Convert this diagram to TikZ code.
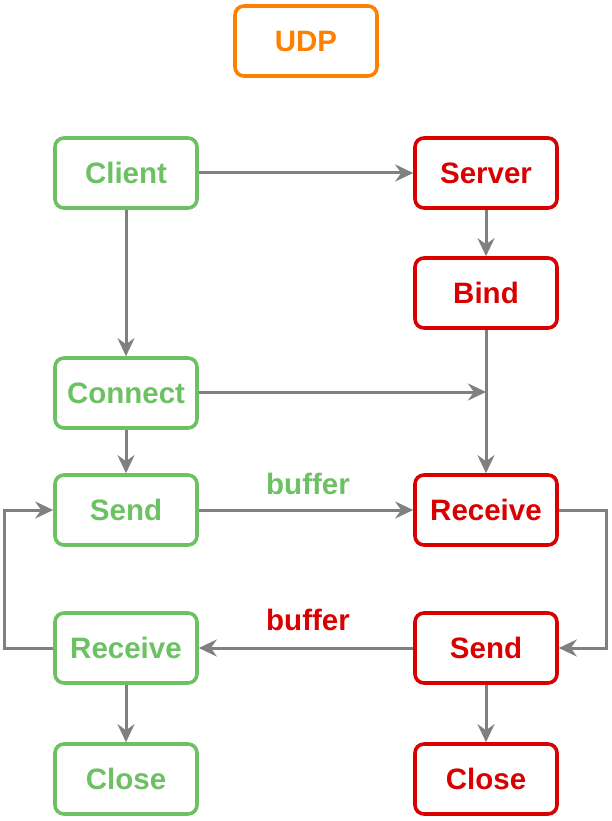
\documentclass[tikz,border=0pt]{standalone}
\usepackage{fontspec}
\setmainfont{Liberation Sans}
\usetikzlibrary{arrows.meta}
\definecolor{cgreen}{HTML}{6CC262}
\definecolor{cred}{HTML}{D80000}
\definecolor{corange}{HTML}{FF8000}
\definecolor{cgray}{HTML}{808080}
\begin{document}
\begin{tikzpicture}[x=1pt,y=-1pt,
  box/.style={draw, line width=3.6pt, rounded corners=9pt, minimum width=142pt, minimum height=70pt, fill=white, font=\fontsize{29.5}{32}\selectfont\bfseries, inner sep=0pt},
  gbox/.style={box, draw=cgreen, text=cgreen},
  rbox/.style={box, draw=cred, text=cred},
  obox/.style={box, draw=corange, text=corange},
  arr/.style={draw=cgray, line width=3pt, -{Stealth[length=18pt, width=17pt, inset=6pt]}},
  lbl/.style={font=\fontsize{29.5}{32}\selectfont\bfseries, inner sep=0pt}]
\useasboundingbox (0,0) rectangle (611,821);
\node[obox] (udp) at (306,41) {UDP};
\node[gbox] (client) at (126,173) {Client};
\node[rbox] (server) at (486,173) {Server};
\node[rbox] (bind) at (486,293) {Bind};
\node[gbox] (connect) at (126,393) {Connect};
\node[gbox] (lsend) at (126,510) {Send};
\node[rbox] (rrecv) at (486,510) {Receive};
\node[gbox] (lrecv) at (126,648) {Receive};
\node[rbox] (rsend) at (486,648) {Send};
\node[gbox] (lclose) at (126,779) {Close};
\node[rbox] (rclose) at (486,779) {Close};
\coordinate (join) at (486,392);
\draw[arr] (client.east) -- (server.west);
\draw[arr] (client.south) -- (connect.north);
\draw[arr] (server.south) -- (bind.north);
\draw[arr] (bind.south) -- (rrecv.north);
\draw[arr] (connect.east |- join) -- (join);
\draw[arr] (connect.south) -- (lsend.north);
\draw[arr] (lsend.east) -- (rrecv.west);
\draw[arr] (rrecv.east) -- ++(48,0) |- (rsend.east);
\draw[arr] (rsend.west) -- (lrecv.east);
\draw[arr] (lrecv.west) -- ++(-49,0) |- (lsend.west);
\draw[arr] (lrecv.south) -- (lclose.north);
\draw[arr] (rsend.south) -- (rclose.north);
\node[lbl, text=cgreen] (b1) at (308,484) {buffer};
\node[lbl, text=cred] (b2) at (308,620) {buffer};
\end{tikzpicture}
\end{document}
